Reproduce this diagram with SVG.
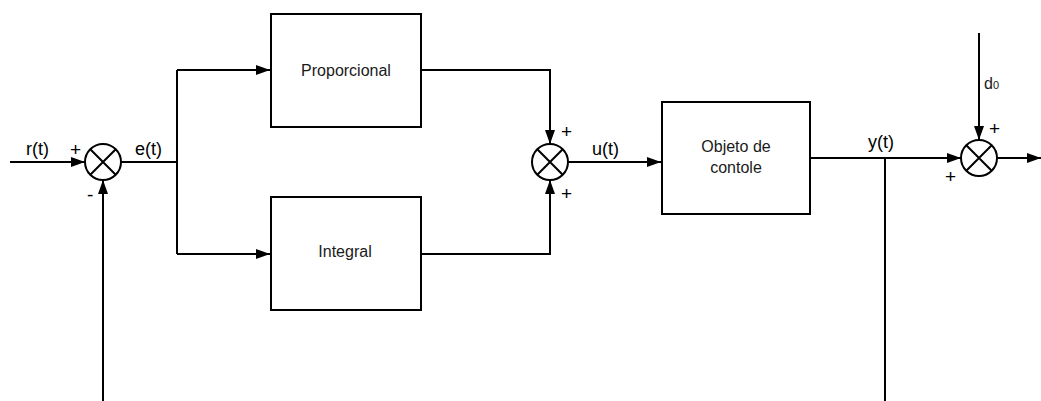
<svg xmlns="http://www.w3.org/2000/svg" width="1041" height="401" viewBox="0 0 1041 401">
  <style>
    .box { fill: #ffffff; stroke: #000000; stroke-width: 2; }
    .sum { fill: #ffffff; stroke: #000000; stroke-width: 2; }
    .cross { stroke: #000000; stroke-width: 2; fill: none; }
    .wire { stroke: #000000; stroke-width: 2; fill: none; }
    .lbl { font-family: "Liberation Sans", Arial, sans-serif; font-size: 16px; fill: #1a1a1a; }
    .sig { font-family: "Liberation Sans", Arial, sans-serif; font-size: 18px; fill: #000000; }
    .sgn { font-family: "Liberation Sans", Arial, sans-serif; font-size: 19px; fill: #000000; }
  </style>
  <defs>
    <marker id="arrow" markerWidth="14" markerHeight="10" refX="14" refY="5" orient="auto" markerUnits="userSpaceOnUse">
      <path d="M0,0 L14,5 L0,10 Z" fill="#000000"/>
    </marker>
  </defs>
  <rect width="1041" height="401" fill="#ffffff"/>

  <g id="connectors">
    <!-- reference input -->
    <line class="wire" x1="10" y1="162" x2="85" y2="162" marker-end="url(#arrow)"/>
    <!-- feedback into first summing junction -->
    <line class="wire" x1="103" y1="401" x2="103" y2="180" marker-end="url(#arrow)"/>
    <!-- error signal and branch -->
    <line class="wire" x1="121" y1="162" x2="177" y2="162"/>
    <path class="wire" d="M177,254 L177,70"/>
    <line class="wire" x1="177" y1="70" x2="270" y2="70" marker-end="url(#arrow)"/>
    <line class="wire" x1="177" y1="254" x2="270" y2="254" marker-end="url(#arrow)"/>
    <!-- controller outputs to second summing junction -->
    <path class="wire" d="M421,70 L550,70 L550,144" marker-end="url(#arrow)"/>
    <path class="wire" d="M421,254 L550,254 L550,180" marker-end="url(#arrow)"/>
    <!-- control signal -->
    <line class="wire" x1="568" y1="162" x2="661" y2="162" marker-end="url(#arrow)"/>
    <!-- plant output -->
    <line class="wire" x1="811" y1="158" x2="961" y2="158" marker-end="url(#arrow)"/>
    <line class="wire" x1="885" y1="158" x2="885" y2="401"/>
    <!-- disturbance -->
    <line class="wire" x1="979" y1="33" x2="979" y2="140" marker-end="url(#arrow)"/>
    <!-- final output -->
    <line class="wire" x1="997" y1="158" x2="1041" y2="158" marker-end="url(#arrow)"/>
  </g>

  <g id="sum1">
    <circle class="sum" cx="103" cy="162" r="18"/>
    <path class="cross" d="M90.3,149.3 L115.7,174.7 M115.7,149.3 L90.3,174.7"/>
    <text class="sgn" x="70" y="156">+</text>
    <text class="sgn" x="87" y="201">-</text>
  </g>

  <g id="proportional">
    <rect class="box" x="271" y="14" width="150" height="113"/>
    <text class="lbl" x="346" y="76" text-anchor="middle">Proporcional</text>
  </g>

  <g id="integral">
    <rect class="box" x="271" y="197" width="150" height="113"/>
    <text class="lbl" x="345" y="257" text-anchor="middle">Integral</text>
  </g>

  <g id="sum2">
    <circle class="sum" cx="550" cy="162" r="18"/>
    <path class="cross" d="M537.3,149.3 L562.7,174.7 M562.7,149.3 L537.3,174.7"/>
    <text class="sgn" x="561" y="138">+</text>
    <text class="sgn" x="561" y="200">+</text>
  </g>

  <g id="plant">
    <rect class="box" x="662" y="102" width="148" height="112"/>
    <text class="lbl" x="736" y="152" text-anchor="middle">Objeto de</text>
    <text class="lbl" x="736" y="173" text-anchor="middle">contole</text>
  </g>

  <g id="sum3">
    <circle class="sum" cx="979" cy="158" r="18"/>
    <path class="cross" d="M966.3,145.3 L991.7,170.7 M991.7,145.3 L966.3,170.7"/>
    <text class="sgn" x="989" y="135">+</text>
    <text class="sgn" x="945" y="183">+</text>
  </g>

  <g id="labels">
    <text class="sig" x="26" y="155">r(t)</text>
    <text class="sig" x="135" y="155">e(t)</text>
    <text class="sig" x="592" y="155">u(t)</text>
    <text class="sig" x="868" y="148">y(t)</text>
    <text class="lbl" x="984" y="89">d<tspan font-size="11">0</tspan></text>
  </g>
</svg>
